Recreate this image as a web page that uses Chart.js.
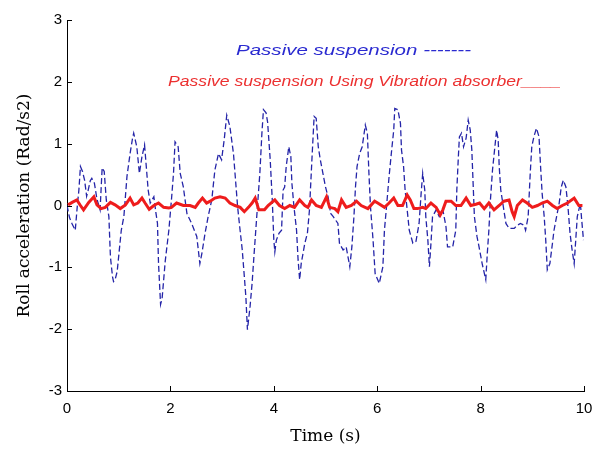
<!DOCTYPE html>
<html>
<head>
<meta charset="utf-8">
<script src="https://cdn.jsdelivr.net/npm/chart.js@4.4.0/dist/chart.umd.min.js"></script>
<style>
html,body{margin:0;padding:0;background:#fff;}
#wrap{width:594px;height:450px;position:relative;}
</style>
</head>
<body>
<div id="wrap"><canvas id="c" width="594" height="450"></canvas></div>
<script>
// Passive suspension (blue, dashed)
const passiveTime = [0.00,0.05,0.10,0.16,0.20,0.23,0.26,0.30,0.34,0.38,0.41,0.45,0.48,0.53,0.58,0.64,0.68,0.72,0.76,0.81,0.84,0.88,0.90,0.93,0.97,1.05,1.10,1.16,1.22,1.27,1.29,1.35,1.40,1.45,1.50,1.57,1.61,1.68,1.72,1.75,1.77,1.81,1.84,1.90,1.97,2.02,2.06,2.09,2.15,2.19,2.25,2.32,2.41,2.51,2.57,2.61,2.67,2.73,2.80,2.86,2.93,2.99,3.04,3.09,3.15,3.22,3.26,3.30,3.34,3.39,3.43,3.46,3.49,3.54,3.58,3.62,3.67,3.73,3.77,3.80,3.85,3.88,3.93,3.97,4.00,4.02,4.05,4.10,4.15,4.18,4.21,4.24,4.29,4.33,4.35,4.39,4.44,4.47,4.50,4.53,4.60,4.65,4.69,4.74,4.78,4.82,4.86,4.90,4.95,5.00,5.05,5.10,5.15,5.24,5.27,5.34,5.40,5.47,5.51,5.55,5.58,5.61,5.66,5.71,5.77,5.81,5.84,5.87,5.92,5.96,6.04,6.11,6.14,6.18,6.23,6.28,6.32,6.34,6.40,6.45,6.47,6.51,6.54,6.58,6.62,6.69,6.75,6.81,6.85,6.88,6.92,6.94,6.98,7.01,7.04,7.07,7.14,7.20,7.27,7.33,7.36,7.46,7.52,7.54,7.57,7.59,7.63,7.67,7.72,7.76,7.80,7.83,7.85,7.88,7.93,7.97,8.03,8.10,8.13,8.16,8.19,8.23,8.27,8.31,8.34,8.36,8.39,8.44,8.49,8.55,8.65,8.71,8.77,8.84,8.87,8.92,8.96,8.99,9.03,9.08,9.13,9.16,9.19,9.23,9.26,9.29,9.34,9.39,9.42,9.47,9.52,9.56,9.60,9.65,9.69,9.73,9.77,9.81,9.84,9.87,9.93,9.95,9.99];
const passiveAccel = [0.0,-0.2,-0.3,-0.4,0.0,0.25,0.63,0.55,0.41,0.15,0.25,0.4,0.44,0.36,0.1,-0.07,0.61,0.55,0.09,-0.18,-0.83,-1.15,-1.23,-1.2,-1.07,-0.4,-0.18,0.47,0.84,1.1,1.17,0.95,0.52,0.79,0.98,0.25,0.04,0.14,-0.12,-0.29,-0.93,-1.6,-1.5,-0.9,-0.4,0.09,0.52,1.03,0.95,0.52,0.3,-0.13,-0.29,-0.5,-0.94,-0.77,-0.45,-0.18,0.09,0.57,0.84,0.74,1.06,1.46,1.28,0.84,0.41,-0.02,-0.34,-0.72,-1.15,-1.48,-2.01,-1.64,-1.26,-0.77,-0.18,0.52,1.17,1.55,1.5,1.35,0.75,0.1,-0.55,-0.75,-0.56,-0.45,-0.4,0.25,0.3,0.63,0.95,0.79,0.36,-0.02,-0.4,-0.88,-1.2,-0.94,-0.61,-0.45,-0.07,0.79,1.44,1.41,0.95,0.74,0.52,0.3,0.14,-0.13,-0.18,-0.29,-0.61,-0.72,-0.67,-0.99,-0.67,-0.18,0.3,0.63,0.84,0.95,1.3,1.17,0.52,-0.02,-0.56,-1.1,-1.26,-0.99,-0.4,-0.02,0.47,0.9,1.22,1.57,1.55,1.33,0.9,0.63,0.25,-0.07,-0.4,-0.61,-0.58,-0.29,0.2,0.52,0.25,-0.18,-0.56,-0.99,-0.61,-0.18,-0.07,-0.18,-0.07,-0.34,-0.67,-0.67,-0.4,0.25,0.79,1.11,1.17,0.95,1.09,1.38,1.22,0.9,0.47,-0.18,-0.5,-0.67,-0.94,-1.2,-0.77,-0.4,0.09,0.57,0.9,1.22,1.06,0.63,0.25,-0.02,-0.29,-0.37,-0.37,-0.32,-0.29,-0.32,-0.4,-0.18,0.52,0.95,1.11,1.25,1.11,0.63,0.2,-0.18,-0.56,-1.04,-0.94,-0.61,-0.4,-0.18,0.04,0.3,0.41,0.3,-0.02,-0.45,-0.72,-0.94,-0.56,-0.18,0.04,-0.18,-0.56];

// Passive suspension using vibration absorber (red, solid)
const absorberTime = [0.02,0.10,0.19,0.26,0.32,0.42,0.52,0.58,0.66,0.74,0.84,0.93,1.03,1.13,1.22,1.29,1.37,1.45,1.51,1.59,1.68,1.77,1.87,1.97,2.02,2.12,2.25,2.38,2.48,2.54,2.62,2.70,2.77,2.86,2.96,3.06,3.15,3.25,3.35,3.43,3.51,3.58,3.64,3.71,3.82,3.89,4.02,4.11,4.21,4.31,4.40,4.50,4.60,4.66,4.73,4.82,4.92,5.02,5.08,5.18,5.24,5.31,5.40,5.50,5.60,5.69,5.82,5.95,6.01,6.14,6.23,6.32,6.40,6.49,6.58,6.64,6.71,6.78,6.88,6.94,7.04,7.14,7.22,7.27,7.33,7.43,7.52,7.62,7.72,7.81,7.91,7.98,8.07,8.16,8.26,8.36,8.45,8.55,8.61,8.65,8.71,8.81,8.90,9.00,9.10,9.19,9.29,9.39,9.48,9.58,9.68,9.81,9.90,9.97];
const absorberAccel = [0.01,0.05,0.09,0.0,-0.07,0.05,0.14,0.01,-0.05,-0.03,0.05,0.01,-0.05,0.01,0.12,0.01,0.04,0.12,0.04,-0.06,0.0,0.04,-0.03,-0.04,-0.03,0.04,0.0,0.0,-0.03,0.04,0.12,0.04,0.07,0.12,0.14,0.12,0.04,0.0,-0.03,-0.1,-0.03,0.04,0.12,-0.07,-0.07,0.0,0.09,0.0,-0.05,0.0,-0.03,0.09,0.0,-0.03,0.09,0.0,-0.03,0.14,-0.03,-0.05,-0.1,0.09,-0.03,0.0,0.07,0.0,-0.05,0.07,0.04,-0.03,0.04,0.12,0.0,0.0,0.17,0.09,-0.05,-0.05,-0.03,-0.05,0.04,-0.03,-0.15,-0.07,0.07,0.07,0.0,0.0,0.12,0.0,0.02,0.04,-0.05,0.04,-0.07,0.0,0.07,0.09,-0.1,-0.18,0.0,0.09,0.04,-0.03,0.0,0.04,0.07,0.0,-0.05,0.0,0.04,0.12,0.0,0.0];

const xTicks = [0,2,4,6,8,10];
const yTicks = [-3,-2,-1,0,1,2,3];
const legendLines = ["Passive suspension -------", "Passive suspension Using Vibration absorber____"];

const toPts = (xs, ys) => xs.map((x, i) => ({x: x, y: ys[i]}));

const inwardTicks = {
  id: 'inwardTicks',
  afterDraw(chart) {
    const ctx = chart.ctx, xs = chart.scales.x, ys = chart.scales.y;
    const ca = chart.chartArea;
    ctx.save();
    ctx.strokeStyle = '#000';
    ctx.lineWidth = 1;
    ctx.beginPath();
    xTicks.forEach(v => {
      const px = Math.round(xs.getPixelForValue(v)) + 0.5;
      ctx.moveTo(px, ca.bottom);
      ctx.lineTo(px, ca.bottom - 5);
    });
    yTicks.forEach(v => {
      const py = Math.round(ys.getPixelForValue(v)) + 0.5;
      ctx.moveTo(ca.left, py);
      ctx.lineTo(ca.left + 5, py);
    });
    ctx.stroke();
    // annotation texts
    ctx.font = 'italic 15px "Liberation Sans", Arial, sans-serif';
    ctx.textBaseline = 'middle';
    ctx.textAlign = 'left';
    const items = [
      {t: legendLines[0], x0: 236, x1: 471, y: 51, c: '#2a2ad0'},
      {t: legendLines[1], x0: 168, x1: 561, y: 82, c: '#ec3030'}
    ];
    items.forEach(it => {
      const w = ctx.measureText(it.t).width;
      ctx.save();
      ctx.translate(it.x0, it.y);
      ctx.scale((it.x1 - it.x0) / w, 1);
      ctx.fillStyle = it.c;
      ctx.fillText(it.t, 0, 0);
      ctx.restore();
    });
    ctx.restore();
  }
};

new Chart(document.getElementById('c'), {
  type: 'scatter',
  data: {
    datasets: [
      {
        label: 'Passive suspension',
        data: toPts(passiveTime, passiveAccel),
        showLine: true,
        borderColor: '#2424a8',
        borderWidth: 1.3,
        borderDash: [6, 3],
        pointRadius: 0,
        tension: 0,
        order: 2
      },
      {
        label: 'Passive suspension Using Vibration absorber',
        data: toPts(absorberTime, absorberAccel),
        showLine: true,
        borderColor: '#ee1c1c',
        borderWidth: 3,
        pointRadius: 0,
        tension: 0,
        order: 1
      }
    ]
  },
  options: {
    responsive: false,
    animation: false,
    devicePixelRatio: 1,
    layout: {padding: {top: 20, right: 10, left: 0, bottom: 0}},
    plugins: {legend: {display: false}, tooltip: {enabled: false}},
    scales: {
      x: {
        type: 'linear', min: 0, max: 10,
        afterFit: s => { s.height = 59; s.paddingLeft = 0; s.paddingRight = 0; },
        afterBuildTicks: s => { s.ticks = xTicks.map(v => ({value: v})); },
        ticks: {color: '#000', padding: 9, font: {family: '"Liberation Sans", Arial, sans-serif', size: 15}},
        grid: {display: true, drawOnChartArea: false, drawTicks: false},
        border: {display: true, color: '#000', width: 1},
        title: {display: true, text: 'Time (s)', color: '#000', padding: {top: 0, bottom: 3},
          font: {family: '"DejaVu Serif", "Liberation Serif", serif', size: 17}}
      },
      y: {
        type: 'linear', min: -3, max: 3,
        afterFit: s => { s.width = 67; s.paddingTop = 0; s.paddingBottom = 0; },
        afterBuildTicks: s => { s.ticks = yTicks.map(v => ({value: v})); },
        ticks: {color: '#000', padding: 5, font: {family: '"Liberation Sans", Arial, sans-serif', size: 15}},
        grid: {display: true, drawOnChartArea: false, drawTicks: false},
        border: {display: true, color: '#000', width: 1},
        title: {display: true, text: 'Roll acceleration (Rad/s2)', color: '#000', padding: {top: 14, bottom: 0},
          font: {family: '"DejaVu Serif", "Liberation Serif", serif', size: 17}}
      }
    }
  },
  plugins: [inwardTicks]
});
</script>
</body>
</html>
